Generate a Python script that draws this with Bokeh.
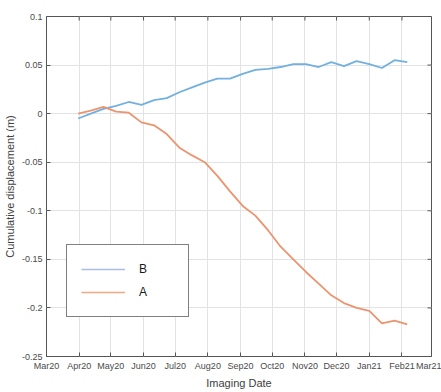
import pandas as pd
from bokeh.plotting import figure
from bokeh.models import (MonthsTicker, DatetimeTickFormatter, FixedTicker, Legend, LegendItem, Range1d)
from bokeh.embed import file_html
from bokeh.resources import INLINE

dates = ["2020-03-31", "2020-04-12", "2020-04-24", "2020-05-06", "2020-05-18", "2020-05-30",
         "2020-06-11", "2020-06-23", "2020-07-05", "2020-07-17", "2020-07-29", "2020-08-10",
         "2020-08-22", "2020-09-03", "2020-09-15", "2020-09-27", "2020-10-09", "2020-10-21",
         "2020-11-02", "2020-11-14", "2020-11-26", "2020-12-08", "2020-12-20", "2021-01-01",
         "2021-01-13", "2021-01-25", "2021-02-06"]
series_b = [-0.005, 0.000, 0.005, 0.008, 0.012, 0.009, 0.014, 0.016, 0.022, 0.027, 0.032, 0.036,
            0.036, 0.041, 0.045, 0.046, 0.048, 0.051, 0.051, 0.048, 0.053, 0.049, 0.054, 0.051,
            0.047, 0.055, 0.053]
series_a = [0.000, 0.003, 0.007, 0.002, 0.001, -0.009, -0.012, -0.021, -0.035, -0.043, -0.050, -0.064,
            -0.080, -0.095, -0.105, -0.120, -0.137, -0.150, -0.163, -0.175, -0.187, -0.195, -0.200,
            -0.203, -0.216, -0.213, -0.217]
y_ticks = [-0.25, -0.2, -0.15, -0.1, -0.05, 0, 0.05, 0.1]
y_tick_labels = ["-0.25", "-0.2", "-0.15", "-0.1", "-0.05", "0", "0.05", "0.1"]
month_ticks = ["2020-03-01", "2020-04-01", "2020-05-01", "2020-06-01", "2020-07-01", "2020-08-01",
               "2020-09-01", "2020-10-01", "2020-11-01", "2020-12-01", "2021-01-01", "2021-02-01",
               "2021-03-01"]
x_start, x_end = month_ticks[0], month_ticks[-1]

x = pd.to_datetime(dates)
mt = pd.to_datetime(month_ticks)
FONT = "Liberation Sans"
TICK_COLOR = "#4a4a4a"
AX_COLOR = "#555555"

W, H = 441, 392
BL, BR, BT, BB = 44, 10, 16, 36
p = figure(width=W, height=H, output_backend="svg", toolbar_location=None,
           x_axis_type="datetime",
           x_range=Range1d(pd.Timestamp(x_start), pd.Timestamp(x_end)),
           y_range=Range1d(y_ticks[0], y_ticks[-1]),
           min_border_left=BL, min_border_right=BR, min_border_top=BT, min_border_bottom=BB)
p.background_fill_color = "white"
p.border_fill_color = "white"
p.outline_line_color = AX_COLOR
p.outline_line_width = 1

xticker = MonthsTicker(months=list(range(12)))
fmt = DatetimeTickFormatter(months="%b%y", days="%b%y", years="%b%y")

p.xgrid.ticker = xticker
p.ygrid.ticker = FixedTicker(ticks=y_ticks)
for g in (p.xgrid[0], p.ygrid[0]):
    g.grid_line_color = "#e3e3e3"
    g.grid_line_width = 1

# inward box ticks on top and right edges (4 px long)
fw = W - BL - BR
fh = H - BT - BB
tick_len_y = (y_ticks[-1] - y_ticks[0]) * 4 / fh
tick_len_x = (pd.Timestamp(x_end) - pd.Timestamp(x_start)) * 4 / fw
p.segment(x0=mt, y0=[y_ticks[-1]] * len(mt), x1=mt, y1=[y_ticks[-1] - tick_len_y] * len(mt),
          line_color=AX_COLOR, line_width=1)
xe = pd.Timestamp(x_end)
p.segment(x0=[xe] * len(y_ticks), y0=y_ticks, x1=[xe - tick_len_x] * len(y_ticks), y1=y_ticks,
          line_color=AX_COLOR, line_width=1)

rb = p.line(x, series_b, line_color="#72b0e0", line_width=1.8)
ra = p.line(x, series_a, line_color="#ec9470", line_width=1.8)
# legend swatches (paler, as in the reference legend); hidden in the plot area
lb = p.line(x, series_b, line_color="#a9bde8", line_width=1.5, visible=False)
la = p.line(x, series_a, line_color="#f2a681", line_width=1.5, visible=False)

xa = p.xaxis[0]
xa.ticker = xticker
xa.formatter = fmt
ya = p.yaxis[0]
ya.ticker = FixedTicker(ticks=y_ticks)
ya.major_label_overrides = {t: l for t, l in zip(y_ticks, y_tick_labels)}

for ax in (xa, ya):
    ax.major_tick_in = 4
    ax.major_tick_out = 0
    ax.minor_tick_in = 0
    ax.minor_tick_out = 0
    ax.axis_line_color = None
    ax.major_tick_line_color = AX_COLOR
    ax.major_label_text_font = FONT
    ax.major_label_text_font_size = "9px"
    ax.major_label_text_color = TICK_COLOR
    ax.axis_label_text_font = FONT
    ax.axis_label_text_font_size = "11px"
    ax.axis_label_text_font_style = "normal"
    ax.axis_label_text_color = "#404040"
    ax.major_label_standoff = 4

xa.major_label_standoff = 4
xa.axis_label = "Imaging Date"
xa.axis_label_standoff = 3
ya.axis_label = "Cumulative displacement (m)"
ya.axis_label_standoff = 3

legend = Legend(items=[LegendItem(label="B", renderers=[lb]), LegendItem(label="A", renderers=[la])],
                location=(20, 39))
legend.glyph_width = 44
legend.glyph_height = 20
legend.label_height = 20
legend.label_standoff = 14
legend.label_width = 35
legend.padding = 14
legend.spacing = 3
legend.border_line_color = "black"
legend.border_line_width = 1.5
legend.background_fill_alpha = 1
legend.inactive_fill_alpha = 0
legend.label_text_font = FONT
legend.label_text_font_size = "12px"
legend.label_text_color = "#1a1a1a"
p.add_layout(legend, "center")

open("out.html", "w").write(file_html(p, INLINE))
